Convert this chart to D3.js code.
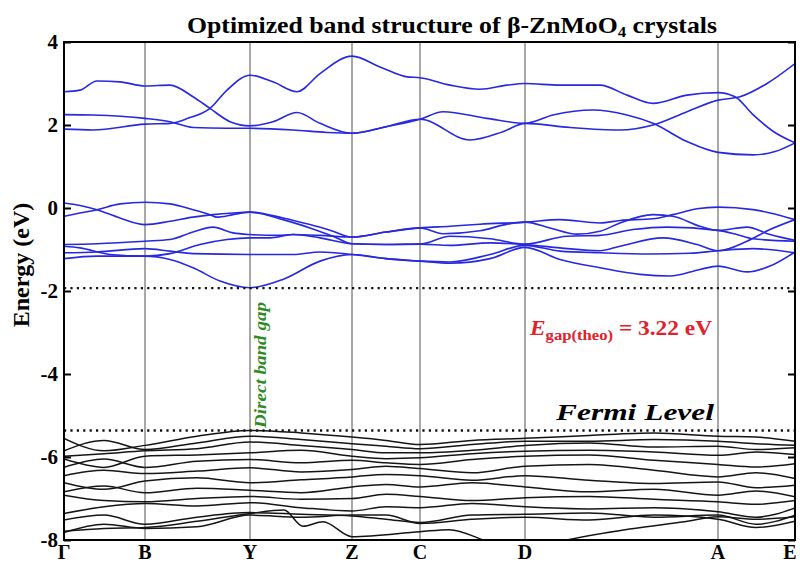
<!DOCTYPE html>
<html>
<head>
<meta charset="utf-8">
<script src="https://cdn.jsdelivr.net/npm/d3@7/dist/d3.min.js"></script>
<style>
  html, body { margin: 0; padding: 0; background: #fff; }
  svg { display: block; }
  text { font-family: "Liberation Serif", "Times New Roman", serif; }
</style>
</head>
<body>
<svg id="chart" width="800" height="563"></svg>
<script>
// High-symmetry points along the k-path (path distance units)
const symLabels = ["Γ", "B", "Y", "Z", "C", "D", "A", "E"];
const symK = [0, 81, 186, 288, 356, 461, 654, 731];
const energyTicks = [4, 2, 0, -2, -4, -6, -8];

// Reference levels (eV)
const cbmLevel = -1.93;
const fermiLevel = -5.36;
const gapTheo = 3.22;

// Conduction bands: [k, E] pairs
const conductionBands = [
  [[0,2.80],[16,2.84],[33,3.06],[56,3.04],[81,2.94],[106,2.96],[129,2.68],[146,2.40],[166,2.08],[186,1.98],[209,2.08],[233,2.30],[256,2.04],[288,1.80],[322,1.96],[356,2.14],[379,2.32],[423,2.16],[461,2.04],[489,2.24],[529,2.36],[563,2.24],[589,2.04],[623,1.60],[654,1.34],[689,1.28],[711,1.36],[731,1.57]],
  [[0,2.25],[29,2.24],[81,2.16],[106,2.08],[129,1.94],[163,1.92],[186,1.92],[229,1.88],[263,1.82],[288,1.80],[322,1.96],[356,2.14],[406,1.64],[439,1.84],[461,2.04],[506,1.94],[556,1.88],[589,2.00],[623,2.32],[654,2.60],[676,2.68],[703,3.00],[731,3.48]],
  [[0,1.90],[29,1.88],[81,2.02],[106,2.04],[124,2.16],[146,2.40],[163,2.84],[186,3.20],[209,3.04],[233,2.80],[256,3.24],[288,3.66],[316,3.40],[343,3.16],[356,3.14],[386,2.96],[416,2.86],[443,2.96],[461,3.00],[496,2.96],[536,2.96],[563,2.72],[589,2.52],[623,2.72],[654,2.78],[671,2.68],[689,2.25],[709,1.85],[731,1.57]]
];

// Upper valence bands (blue group just below 0 eV)
const valenceUpper = [
  [[0,0.12],[16,0.06],[33,-0.04],[56,-0.24],[81,-0.40],[106,-0.32],[129,-0.22],[149,-0.16],[169,-0.12],[186,-0.10],[219,-0.24],[246,-0.40],[269,-0.56],[288,-0.70],[322,-0.58],[356,-0.48],[386,-0.44],[416,-0.39],[461,-0.34],[496,-0.28],[536,-0.36],[556,-0.30],[589,-0.26],[609,-0.16],[633,-0.02],[654,0.02],[689,-0.04],[706,-0.12],[731,-0.28]],
  [[0,-0.20],[16,-0.12],[33,-0.04],[56,0.10],[81,0.14],[106,0.10],[129,-0.04],[146,-0.16],[153,-0.22],[169,-0.16],[186,-0.10],[219,-0.28],[246,-0.48],[269,-0.68],[288,-0.86],[322,-0.88],[356,-0.87],[386,-0.68],[426,-0.74],[461,-0.87],[503,-0.68],[536,-0.66],[569,-0.52],[603,-0.46],[654,-0.54],[673,-0.64],[689,-0.74],[731,-0.80]],
  [[0,-0.88],[33,-0.86],[81,-0.80],[106,-0.76],[129,-0.58],[149,-0.46],[169,-0.60],[186,-0.64],[213,-0.66],[229,-0.64],[256,-0.72],[288,-0.86],[322,-0.88],[356,-0.87],[386,-0.90],[426,-0.84],[461,-0.88],[496,-0.96],[536,-1.03],[556,-0.92],[599,-0.72],[633,-0.88],[654,-1.03],[683,-0.80],[706,-0.52],[731,-0.28]],
  [[0,-0.92],[16,-0.96],[46,-1.12],[81,-1.16],[106,-1.10],[136,-0.88],[163,-0.76],[186,-0.72],[206,-0.72],[229,-0.64],[256,-0.66],[288,-0.70],[322,-0.58],[356,-0.48],[379,-0.62],[416,-0.55],[441,-0.40],[461,-0.34],[486,-0.48],[513,-0.63],[536,-0.56],[556,-0.36],[589,-0.16],[609,-0.20],[636,-0.44],[654,-0.54],[683,-0.46],[706,-0.64],[731,-0.78]],
  [[0,-1.08],[33,-1.06],[81,-0.98],[106,-1.04],[129,-1.10],[186,-1.12],[229,-1.12],[256,-1.06],[288,-1.12],[322,-1.22],[356,-1.28],[386,-1.30],[426,-1.12],[461,-0.90],[496,-1.04],[536,-1.08],[586,-1.11],[626,-1.09],[654,-1.03],[689,-0.98],[731,-1.08]],
  [[0,-1.22],[33,-1.16],[81,-1.16],[106,-1.24],[129,-1.44],[156,-1.76],[186,-1.92],[219,-1.72],[256,-1.28],[288,-1.12],[322,-1.22],[356,-1.28],[386,-1.33],[426,-1.22],[461,-0.95],[496,-1.24],[536,-1.44],[576,-1.60],[606,-1.64],[636,-1.48],[654,-1.40],[683,-1.54],[706,-1.40],[731,-1.06]]
];

// Lower valence bands (black group below the Fermi level), sampled on a shared k grid
const valenceLowerK = [0, 40, 81, 133, 186, 237, 288, 322, 356, 408, 461, 525, 590, 654, 692, 731];
const valenceLower = [
  [-5.55,-5.85,-5.72,-5.50,-5.36,-5.42,-5.52,-5.60,-5.70,-5.60,-5.55,-5.48,-5.42,-5.50,-5.52,-5.62],
  [-5.85,-5.60,-5.82,-5.66,-5.50,-5.58,-5.68,-5.74,-5.80,-5.70,-5.62,-5.62,-5.58,-5.62,-5.68,-5.72],
  [-5.98,-5.92,-5.85,-5.80,-5.64,-5.72,-5.82,-5.90,-5.90,-5.84,-5.72,-5.66,-5.76,-5.74,-5.82,-5.78],
  [-6.05,-6.25,-5.98,-5.95,-5.90,-5.84,-5.98,-6.04,-6.02,-5.92,-5.86,-5.84,-5.88,-5.96,-5.88,-5.94],
  [-6.25,-6.05,-6.25,-6.10,-6.06,-6.14,-6.08,-6.14,-6.18,-6.06,-5.98,-5.95,-6.08,-6.18,-6.24,-6.16],
  [-6.45,-6.32,-6.40,-6.34,-6.26,-6.36,-6.30,-6.22,-6.28,-6.38,-6.22,-6.18,-6.32,-6.48,-6.38,-6.52],
  [-6.62,-6.78,-6.58,-6.50,-6.62,-6.55,-6.48,-6.42,-6.45,-6.56,-6.45,-6.56,-6.64,-6.60,-6.74,-6.68],
  [-6.84,-6.70,-6.86,-6.75,-6.80,-6.86,-6.72,-6.66,-6.72,-6.62,-6.72,-6.84,-6.78,-6.92,-6.82,-6.96],
  [-6.92,-7.05,-7.08,-7.00,-6.95,-7.02,-7.00,-6.90,-6.95,-7.05,-6.98,-6.95,-7.02,-7.08,-7.14,-7.05],
  [-7.36,-7.20,-7.12,-7.18,-7.10,-7.22,-7.30,-7.20,-7.22,-7.12,-7.20,-7.25,-7.22,-7.32,-7.45,-7.23],
  [-7.52,-7.40,-7.62,-7.45,-7.34,-7.38,-7.42,-7.50,-7.58,-7.40,-7.38,-7.35,-7.45,-7.40,-7.62,-7.40],
  [-7.82,-7.62,-7.72,-7.68,-7.40,-7.45,-7.40,-7.40,-7.60,-7.50,-7.45,-7.52,-7.40,-7.50,-7.70,-7.55]
];
// Deepest band, which leaves the window between C and D
const valenceDeep = [[0,-7.79],[40,-7.72],[81,-7.70],[133,-7.55],[186,-7.36],[220,-7.28],[239,-7.67],[259,-7.56],[288,-7.92],[356,-7.80],[385,-7.75],[425,-8.05],[461,-8.30],[500,-8.02],[568,-7.73],[620,-7.56],[654,-7.44],[692,-7.50],[731,-7.44]];

const svg = d3.select("#chart");
const margin = { left: 64, right: 5, top: 42, bottom: 23 };
const W = 800, H = 563;

const x = d3.scaleLinear().domain([symK[0], symK[symK.length - 1]]).range([margin.left, W - margin.right]);
const y = d3.scaleLinear().domain([-8, 4]).range([H - margin.bottom, margin.top]);

svg.append("defs").append("clipPath").attr("id", "plotClip")
  .append("rect")
  .attr("x", x.range()[0]).attr("y", y.range()[1])
  .attr("width", x.range()[1] - x.range()[0])
  .attr("height", y.range()[0] - y.range()[1]);

// Vertical lines at high-symmetry points
svg.append("g").selectAll("line").data(symK.slice(1, -1)).join("line")
  .attr("x1", d => x(d)).attr("x2", d => x(d))
  .attr("y1", y(4)).attr("y2", y(-8))
  .attr("stroke", "#6e6e6e").attr("stroke-width", 1.2);

const line = d3.line().x(d => x(d[0])).y(d => y(d[1])).curve(d3.curveMonotoneX);
const bands = svg.append("g").attr("clip-path", "url(#plotClip)").attr("fill", "none");

bands.selectAll("path.cb").data(conductionBands).join("path")
  .attr("class", "cb").attr("d", line)
  .attr("stroke", "#2828e0").attr("stroke-width", 1.6);

bands.selectAll("path.vu").data(valenceUpper).join("path")
  .attr("class", "vu").attr("d", line)
  .attr("stroke", "#2828e0").attr("stroke-width", 1.6);

const lowerSeries = valenceLower.map(es => es.map((e, i) => [valenceLowerK[i], e]));
lowerSeries.push(valenceDeep);
bands.selectAll("path.vl").data(lowerSeries).join("path")
  .attr("class", "vl").attr("d", line)
  .attr("stroke", "#151515").attr("stroke-width", 1.5);

// Dotted band-edge lines
svg.append("g").selectAll("line").data([cbmLevel, fermiLevel]).join("line")
  .attr("x1", x.range()[0]).attr("x2", x.range()[1])
  .attr("y1", d => y(d)).attr("y2", d => y(d))
  .attr("stroke", "#111").attr("stroke-width", 2.4)
  .attr("stroke-dasharray", "2.2,4.2");

// Frame
svg.append("rect")
  .attr("x", x.range()[0]).attr("y", y.range()[1])
  .attr("width", x.range()[1] - x.range()[0])
  .attr("height", y.range()[0] - y.range()[1])
  .attr("fill", "none").attr("stroke", "#000").attr("stroke-width", 2);

// Y axis (ticks drawn inward on both sides)
const yAxisL = svg.append("g").attr("transform", `translate(${x.range()[0]},0)`)
  .call(d3.axisRight(y).tickValues(energyTicks).tickSize(7).tickFormat(""));
yAxisL.select(".domain").remove();
yAxisL.selectAll("line").attr("stroke", "#000").attr("stroke-width", 2);
const yAxisR = svg.append("g").attr("transform", `translate(${x.range()[1]},0)`)
  .call(d3.axisLeft(y).tickValues(energyTicks).tickSize(7).tickFormat(""));
yAxisR.select(".domain").remove();
yAxisR.selectAll("line").attr("stroke", "#000").attr("stroke-width", 2);

svg.append("g").selectAll("text").data(energyTicks).join("text")
  .attr("x", x.range()[0] - 6).attr("y", d => y(d) + 7)
  .attr("text-anchor", "end")
  .attr("font-size", 21).attr("font-weight", "bold")
  .text(d => d);

// X labels (the last one is pulled inside the canvas edge)
svg.append("g").selectAll("text").data(symK).join("text")
  .attr("x", (d, i) => Math.min(x(d), W - 10)).attr("y", 559)
  .attr("text-anchor", "middle")
  .attr("font-size", 20).attr("font-weight", "bold")
  .text((d, i) => symLabels[i]);

// Axis title
svg.append("text")
  .attr("transform", `translate(29,265) rotate(-90)`)
  .attr("text-anchor", "middle")
  .attr("font-size", 24).attr("font-weight", "bold")
  .text("Energy (eV)");

// Title
const title = svg.append("text")
  .attr("x", 452).attr("y", 33)
  .attr("text-anchor", "middle")
  .attr("font-size", 23).attr("font-weight", "bold")
  .attr("textLength", 530).attr("lengthAdjust", "spacingAndGlyphs");
title.append("tspan").text("Optimized band structure of β-ZnMoO");
title.append("tspan").attr("font-size", 15).attr("dy", 4).text("4");
title.append("tspan").attr("dy", -4).text(" crystals");

// Annotations
svg.append("text")
  .attr("transform", `translate(${x(186) + 16},428) rotate(-90)`)
  .attr("font-size", 16).attr("font-weight", "bold").attr("font-style", "italic")
  .attr("fill", "#2f8a24")
  .attr("textLength", 126).attr("lengthAdjust", "spacingAndGlyphs")
  .text("Direct band gap");

const gapLabel = svg.append("text")
  .attr("x", 530).attr("y", 335)
  .attr("font-size", 21).attr("font-weight", "bold")
  .attr("fill", "#e3202b")
  .attr("textLength", 182).attr("lengthAdjust", "spacingAndGlyphs");
gapLabel.append("tspan").attr("font-style", "italic").text("E");
gapLabel.append("tspan").attr("font-size", 15).attr("dy", 5).text("gap(theo)");
gapLabel.append("tspan").attr("dy", -5).text(` = ${gapTheo.toFixed(2)} eV`);

svg.append("text")
  .attr("x", 556).attr("y", 420)
  .attr("font-size", 23).attr("font-weight", "bold").attr("font-style", "italic")
  .attr("textLength", 158).attr("lengthAdjust", "spacingAndGlyphs")
  .text("Fermi Level");
</script>
</body>
</html>
